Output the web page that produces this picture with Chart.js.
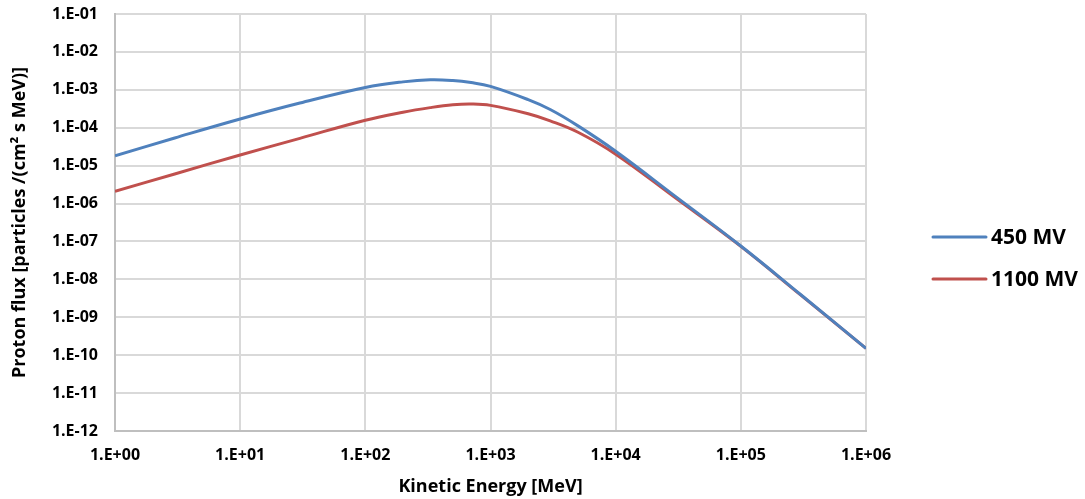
<!DOCTYPE html>
<html>
<head>
<meta charset="utf-8">
<title>Proton flux spectra</title>
<script src="https://cdn.jsdelivr.net/npm/chart.js@4/dist/chart.umd.min.js"></script>
<style>
  html, body { margin: 0; padding: 0; background: #ffffff; }
  #wrap { width: 1085px; height: 499px; position: relative; }
</style>
</head>
<body>
<div id="wrap"><canvas id="chart" width="1085" height="499"></canvas></div>
<script>
// Kinetic energy grid [MeV]
const energy = [1, 3, 10, 30, 100, 200, 330, 500, 700, 1000, 2000, 3000, 5000, 1e4, 3e4, 1e5, 3e5, 1e6];

// Proton flux [particles /(cm² s MeV)] for the two modulation potentials
const flux450 = [1.82e-5, 5.37e-5, 1.70e-4, 4.47e-4, 1.15e-3, 1.62e-3, 1.84e-3, 1.76e-3, 1.55e-3, 1.23e-3,
                 5.50e-4, 3.02e-4, 1.12e-4, 2.40e-5, 1.55e-6, 7.59e-8, 3.98e-9, 1.51e-10];
const flux1100 = [2.09e-6, 6.03e-6, 1.91e-5, 5.25e-5, 1.58e-4, 2.57e-4, 3.39e-4, 4.03e-4, 4.22e-4, 3.89e-4,
                  2.34e-4, 1.52e-4, 7.59e-5, 2.00e-5, 1.41e-6, 7.41e-8, 3.89e-9, 1.51e-10];

const seriesNames = ['450 MV', '1100 MV'];
const seriesColors = ['#4f81bd', '#c0504d'];

// Axis ticks: one per decade
const xTickValues = [1, 10, 100, 1000, 1e4, 1e5, 1e6];
const xTickLabels = ['1.E+00', '1.E+01', '1.E+02', '1.E+03', '1.E+04', '1.E+05', '1.E+06'];
const yTickValues = [1e-12, 1e-11, 1e-10, 1e-9, 1e-8, 1e-7, 1e-6, 1e-5, 1e-4, 1e-3, 1e-2, 1e-1];
const yTickLabels = ['1.E-12', '1.E-11', '1.E-10', '1.E-09', '1.E-08', '1.E-07', '1.E-06', '1.E-05',
                     '1.E-04', '1.E-03', '1.E-02', '1.E-01'];

const FONT = '"Open Sans", "DejaVu Sans", sans-serif';

function toPoints(xs, ys) {
  return xs.map((x, i) => ({ x: x, y: ys[i] }));
}

// Legend drawn to the right of the plot: short line sample + bold label
const sideLegend = {
  id: 'sideLegend',
  afterDraw(chart) {
    const ctx = chart.ctx;
    const area = chart.chartArea;
    const x0 = area.right + 67;
    const lineLen = 53;
    const rowGap = 42;
    const yStart = chart.height / 2 - 12.5;
    ctx.save();
    chart.data.datasets.forEach((ds, i) => {
      const y = yStart + i * rowGap;
      ctx.strokeStyle = ds.borderColor;
      ctx.lineWidth = 3;
      ctx.lineCap = 'round';
      ctx.beginPath();
      ctx.moveTo(x0, y);
      ctx.lineTo(x0 + lineLen, y);
      ctx.stroke();
      ctx.fillStyle = '#000000';
      ctx.font = 'bold 21px ' + FONT;
      ctx.textBaseline = 'middle';
      ctx.textAlign = 'left';
      ctx.fillText(ds.label, x0 + lineLen + 5, y + 1);
    });
    ctx.restore();
  }
};

new Chart(document.getElementById('chart'), {
  type: 'line',
  data: {
    datasets: [
      {
        label: seriesNames[0],
        data: toPoints(energy, flux450),
        borderColor: seriesColors[0],
        backgroundColor: seriesColors[0],
        borderWidth: 3,
        pointRadius: 0,
        tension: 0.4,
        fill: false
      },
      {
        label: seriesNames[1],
        data: toPoints(energy, flux1100),
        borderColor: seriesColors[1],
        backgroundColor: seriesColors[1],
        borderWidth: 3,
        pointRadius: 0,
        tension: 0.4,
        fill: false
      }
    ]
  },
  options: {
    responsive: false,
    animation: false,
    layout: { padding: { left: 0, right: 219, top: 14, bottom: 0 } },
    plugins: {
      legend: { display: false },
      tooltip: { enabled: false }
    },
    scales: {
      x: {
        type: 'logarithmic',
        min: 1,
        max: 1e6,
        afterBuildTicks(scale) {
          scale.ticks = xTickValues.map(v => ({ value: v }));
        },
        afterFit(scale) {
          scale.height = 68;
          scale.paddingLeft = 0;
          scale.paddingRight = 0;
        },
        ticks: {
          autoSkip: false,
          maxRotation: 0,
          padding: 15,
          color: '#000000',
          font: { family: FONT, size: 16, weight: 'bold' },
          callback(value, index) { return xTickLabels[index]; }
        },
        grid: { color: '#d9d9d9', lineWidth: 2, drawTicks: false },
        border: { color: '#bfbfbf', width: 2 },
        title: {
          display: true,
          text: 'Kinetic Energy [MeV]',
          color: '#000000',
          font: { family: FONT, size: 18, weight: 'bold' },
          padding: { top: 1, bottom: 1 }
        }
      },
      y: {
        type: 'logarithmic',
        min: 1e-12,
        max: 1e-1,
        afterBuildTicks(scale) {
          scale.ticks = yTickValues.map(v => ({ value: v }));
        },
        afterFit(scale) {
          scale.width = 115;
          scale.paddingTop = 0;
          scale.paddingBottom = 0;
        },
        ticks: {
          autoSkip: false,
          padding: 17,
          color: '#000000',
          font: { family: FONT, size: 16, weight: 'bold' },
          callback(value, index) { return yTickLabels[index]; }
        },
        grid: { color: '#d9d9d9', lineWidth: 2, drawTicks: false },
        border: { color: '#bfbfbf', width: 2 },
        title: {
          display: true,
          text: 'Proton flux [particles /(cm² s MeV)]',
          color: '#000000',
          font: { family: FONT, size: 18, weight: 'bold' },
          padding: { top: 9, bottom: 9 }
        }
      }
    }
  },
  plugins: [sideLegend]
});
</script>
</body>
</html>
